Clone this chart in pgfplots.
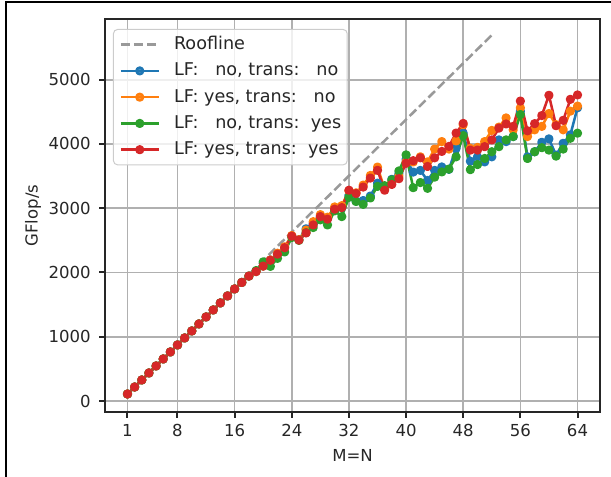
\documentclass[border=0pt]{standalone}
\usepackage{pgfplots}
\pgfplotsset{compat=1.18}
\usepackage{fontspec}
\setmainfont{DejaVu Sans}
\setsansfont{DejaVu Sans}

\definecolor{tabblue}{HTML}{1F77B4}
\definecolor{taborange}{HTML}{FF7F0E}
\definecolor{tabgreen}{HTML}{2CA02C}
\definecolor{tabred}{HTML}{D62728}
\definecolor{gridgray}{HTML}{B0B0B0}
\definecolor{roofgray}{HTML}{999999}
\definecolor{spine}{HTML}{262626}
\definecolor{textgray}{HTML}{262626}
\definecolor{legendedge}{HTML}{CCCCCC}

\newcommand{\chartfont}{\fontsize{12.4}{15}\selectfont}
\newcommand{\legendfont}{\fontsize{13.2}{16}\selectfont}

\begin{document}
\chartfont
\begin{tikzpicture}
\begin{axis}[
  scale only axis,
  width=371.25pt, height=294.75pt,
  xmin=-2.15, xmax=67.15,
  ymin=-171, ymax=5945,
  xtick={1,8,16,24,32,40,48,56,64},
  ytick={0,1000,2000,3000,4000,5000},
  tick pos=left,
  tick align=outside,
  major tick length=4.3pt,
  every tick/.style={line width=1.5pt, color=spine},
  grid=major,
  major grid style={line width=1.2pt, color=gridgray},
  axis line style={line width=1.5pt, color=spine},
  /pgf/number format/assume math mode=true,
  /pgf/number format/1000 sep={},
  ticklabel style={font=\chartfont, text=textgray},
  xticklabel style={anchor=north, inner sep=0pt, yshift=-4.7pt},
  yticklabel style={anchor=east, inner sep=0pt, xshift=-6.2pt},
  xlabel={M=N}, ylabel={GFlop/s},
  label style={font=\chartfont, text=textgray},
  xlabel style={at={(axis description cs:0.5,-0.1094)}, anchor=center},
  ylabel style={at={(axis description cs:-0.1455,0.5)}, anchor=center},
  legend cell align=left,
  legend style={
    at={(axis description cs:0,1)}, anchor=north west,
    xshift=6pt, yshift=-7.5pt,
    draw=legendedge, line width=0.75pt, rounded corners=3pt,
    fill=white, fill opacity=0.8, text opacity=1,
    inner xsep=4.5pt, inner ysep=5pt,
    row sep=7pt, column sep=0pt,
    nodes={inner sep=0pt, text height=10pt, text depth=2.7pt,
           font=\legendfont, text=textgray},
  },
  legend image code/.code={%
    \draw[mark repeat=2,mark phase=2] plot coordinates {(0pt,0pt) (14.25pt,0pt) (28.5pt,0pt)};
    \path (39pt,0pt);},
  every axis plot/.append style={line width=1.9pt, line join=round},
]

% ideal peak performance
\addplot[color=roofgray, dash pattern=on 6.9pt off 3pt] coordinates {
  (1,109.5) (52,5694)
};
\addlegendentry{Roofline}

% LF: no, trans: no
\addplot[color=tabblue, mark=*, mark size=2.5pt, mark options={solid, draw=none, fill=tabblue}] coordinates {
  (1,109) (2,218) (3,327) (4,436) (5,545) (6,654) (7,763) (8,872)
  (9,981) (10,1090) (11,1199) (12,1308) (13,1417) (14,1526) (15,1635) (16,1744)
  (17,1845) (18,1945) (19,2015) (20,2100) (21,2195) (22,2290) (23,2390) (24,2565)
  (25,2510) (26,2680) (27,2760) (28,2880) (29,2840) (30,3000) (31,3010) (32,3200)
  (33,3110) (34,3120) (35,3190) (36,3390) (37,3340) (38,3450) (39,3540) (40,3760)
  (41,3563) (42,3589) (43,3432) (44,3589) (45,3642) (46,3605) (47,3932) (48,4168)
  (49,3732) (50,3800) (51,3721) (52,3800) (53,4063) (54,4037) (55,4116) (56,4511)
  (57,3800) (58,3879) (59,4026) (60,4079) (61,3826) (62,4011) (63,4142) (64,4563)
};
\addlegendentry{LF:\ \ \ no, trans:\ \ \ no}

% LF: yes, trans: no
\addplot[color=taborange, mark=*, mark size=2.5pt, mark options={solid, draw=none, fill=taborange}] coordinates {
  (1,109) (2,218) (3,327) (4,436) (5,545) (6,654) (7,763) (8,872)
  (9,981) (10,1090) (11,1199) (12,1308) (13,1417) (14,1526) (15,1635) (16,1744)
  (17,1845) (18,1945) (19,2015) (20,2100) (21,2195) (22,2300) (23,2400) (24,2575)
  (25,2510) (26,2660) (27,2790) (28,2900) (29,2860) (30,3020) (31,3040) (32,3270)
  (33,3240) (34,3360) (35,3510) (36,3640) (37,3300) (38,3410) (39,3500) (40,3720)
  (41,3720) (42,3800) (43,3721) (44,3921) (45,4037) (46,3921) (47,4047) (48,4300)
  (49,3932) (50,3947) (51,4037) (52,4211) (53,4263) (54,4405) (55,4221) (56,4563)
  (57,4116) (58,4221) (59,4274) (60,4474) (61,4300) (62,4221) (63,4511) (64,4589)
};
\addlegendentry{LF: yes, trans:\ \ \ no}

% LF: no, trans: yes
\addplot[color=tabgreen, mark=*, mark size=2.5pt, mark options={solid, draw=none, fill=tabgreen}] coordinates {
  (1,109) (2,218) (3,327) (4,436) (5,545) (6,654) (7,763) (8,872)
  (9,981) (10,1090) (11,1199) (12,1308) (13,1417) (14,1526) (15,1635) (16,1744)
  (17,1845) (18,1945) (19,2030) (20,2165) (21,2095) (22,2220) (23,2320) (24,2545)
  (25,2500) (26,2620) (27,2700) (28,2820) (29,2740) (30,2960) (31,2870) (32,3170)
  (33,3105) (34,3060) (35,3160) (36,3340) (37,3350) (38,3440) (39,3580) (40,3830)
  (41,3320) (42,3400) (43,3310) (44,3484) (45,3565) (46,3610) (47,3800) (48,4130)
  (49,3600) (50,3679) (51,3774) (52,3879) (53,3958) (54,4063) (55,4116) (56,4458)
  (57,3774) (58,3879) (59,3942) (60,3905) (61,3811) (62,3921) (63,4089) (64,4168)
};
\addlegendentry{LF:\ \ \ no, trans:\ \ yes}

% LF: yes, trans: yes
\addplot[color=tabred, mark=*, mark size=2.5pt, mark options={solid, draw=none, fill=tabred}] coordinates {
  (1,109) (2,218) (3,327) (4,436) (5,545) (6,654) (7,763) (8,872)
  (9,981) (10,1090) (11,1199) (12,1308) (13,1417) (14,1526) (15,1635) (16,1744)
  (17,1845) (18,1945) (19,2015) (20,2100) (21,2190) (22,2285) (23,2385) (24,2565)
  (25,2505) (26,2615) (27,2740) (28,2870) (29,2830) (30,2985) (31,3010) (32,3280)
  (33,3230) (34,3330) (35,3470) (36,3590) (37,3280) (38,3370) (39,3460) (40,3700)
  (41,3740) (42,3785) (43,3650) (44,3785) (45,3884) (46,3962) (47,4170) (48,4320)
  (49,3905) (50,3905) (51,3958) (52,4063) (53,4247) (54,4311) (55,4274) (56,4668)
  (57,4205) (58,4316) (59,4442) (60,4758) (61,4284) (62,4368) (63,4695) (64,4763)
};
\addlegendentry{LF: yes, trans:\ \ yes}

\end{axis}
% figure frame, cut off at the right and bottom
\draw[line width=1.5pt, color=black] (-74.25pt,-48.75pt) -- (-74.25pt,307.5pt) -- (379.5pt,307.5pt);
\pgfresetboundingbox
\path[use as bounding box] (-78.75pt,-48.75pt) rectangle (379.5pt,309pt);
\end{tikzpicture}
\end{document}
